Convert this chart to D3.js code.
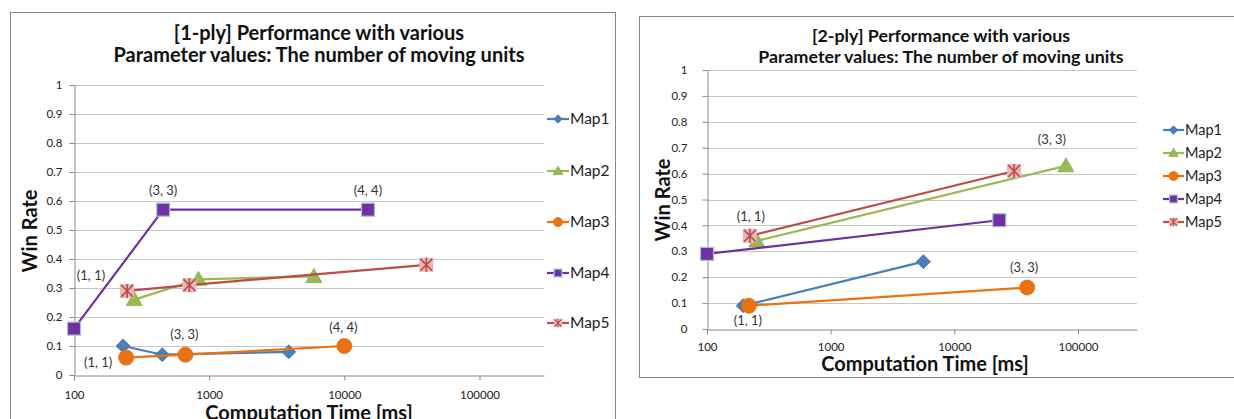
<!DOCTYPE html>
<html>
<head>
<meta charset="utf-8">
<title>Performance with various parameter values</title>
<style>
  body { margin: 0; background: #fff; }
  svg { display: block; font-family: Lato, "Open Sans", sans-serif; }
  .frame { fill: #fff; stroke: #878787; stroke-width: 1; }
  .grid line { stroke: #c6c6c6; stroke-width: 1; }
  .axis path, .axis line { stroke: #8a8a8a; }
  .axis text { fill: #222; }
  .title { font-weight: bold; fill: #111; text-anchor: middle; }
  .axis-title { font-weight: bold; fill: #111; text-anchor: middle; }
  .pt-label { fill: #333; text-anchor: middle; }
  .legend text { fill: #222; }
</style>
</head>
<body>
<div id="chart"></div>
<script src="https://d3js.org/d3.v7.min.js"></script>
<script>
// ---- data ----
var seriesNames = ['Map1', 'Map2', 'Map3', 'Map4', 'Map5'];
var xTickValues = [100, 1000, 10000, 100000];
var yTickValues = [0, 0.1, 0.2, 0.3, 0.4, 0.5, 0.6, 0.7, 0.8, 0.9, 1];
var xDomain = [100, 300000];
var yDomain = [0, 1];
var titleLine2 = 'Parameter values: The number of moving units';

// [1-ply]  [time ms, win rate]
var ply1Map1 = [[231, 0.10], [450, 0.07], [3880, 0.08]];
var ply1Map2 = [[279, 0.26], [833, 0.33], [5950, 0.34]];
var ply1Map3 = [[243, 0.06], [667, 0.07], [10000, 0.10]];
var ply1Map4 = [[100, 0.16], [457, 0.57], [14960, 0.57]];
var ply1Map5 = [[247, 0.29], [714, 0.31], [40400, 0.38]];
// [series, point index, label]
var ply1Labels = [
  ['Map4', 0, '(1, 1)'], ['Map4', 1, '(3, 3)'], ['Map4', 2, '(4, 4)'],
  ['Map3', 0, '(1, 1)'], ['Map3', 1, '(3, 3)'], ['Map3', 2, '(4, 4)']
];

// [2-ply]
var ply2Map1 = [[196, 0.09], [5620, 0.26]];
var ply2Map2 = [[253, 0.34], [79900, 0.63]];
var ply2Map3 = [[218, 0.09], [38800, 0.16]];
var ply2Map4 = [[100, 0.29], [23100, 0.42]];
var ply2Map5 = [[222, 0.36], [30400, 0.61]];
var ply2Labels = [
  ['Map5', 0, '(1, 1)'], ['Map2', 1, '(3, 3)'],
  ['Map3', 0, '(1, 1)'], ['Map3', 1, '(3, 3)']
];

// ---- styles ----
var seriesStyle = {
  Map1: { line: '#4a7ebb', shape: 'diamond' },
  Map2: { line: '#98b954', shape: 'triangle' },
  Map3: { line: '#ea7210', shape: 'circle' },
  Map4: { line: '#7030a0', shape: 'square' },
  Map5: { line: '#be4b48', shape: 'star' }
};

var svg = d3.select('#chart').append('svg')
  .attr('width', 1234)
  .attr('height', 419);

function markerPath(g, shape, k) {
  var h;
  if (shape == 'diamond') {
    h = 7 * k;
    g.append('path')
      .attr('d', 'M0,' + (-h) + 'L' + h + ',0L0,' + h + 'L' + (-h) + ',0Z')
      .attr('fill', '#4a7ebb').attr('stroke', '#3f6fa8').attr('stroke-width', 0.8);
  } else if (shape == 'triangle') {
    h = 8 * k;
    g.append('path')
      .attr('d', 'M0,' + (-h) + 'L' + h + ',' + (h * 0.75) + 'L' + (-h) + ',' + (h * 0.75) + 'Z')
      .attr('fill', '#98b954').attr('stroke', '#8aab48').attr('stroke-width', 0.8);
  } else if (shape == 'circle') {
    g.append('circle').attr('r', 7.5 * k)
      .attr('fill', '#ea7210').attr('stroke', '#e06a08').attr('stroke-width', 0.8);
  } else if (shape == 'square') {
    h = 6.5 * k;
    g.append('rect').attr('x', -h).attr('y', -h).attr('width', 2 * h).attr('height', 2 * h)
      .attr('fill', '#7030a0').attr('stroke', '#a6bfdf').attr('stroke-width', 1.2);
  } else {
    h = 7 * k;
    g.append('rect').attr('x', -h).attr('y', -h).attr('width', 2 * h).attr('height', 2 * h)
      .attr('fill', '#e6b9b8');
    var a = h * 0.85;
    g.append('path')
      .attr('d', 'M' + (-a) + ',' + (-a) + 'L' + a + ',' + a +
                 'M' + a + ',' + (-a) + 'L' + (-a) + ',' + a +
                 'M0,' + (-h) + 'L0,' + h)
      .attr('stroke', '#be4b48').attr('stroke-width', 1.6 * Math.max(k, 0.7)).attr('fill', 'none');
  }
}

function drawPanel(cfg) {
  var p = cfg.plot;
  var g = svg.append('g');

  g.append('rect').attr('class', 'frame')
    .attr('x', cfg.frame[0] + 0.5).attr('y', cfg.frame[1] + 0.5)
    .attr('width', cfg.frame[2]).attr('height', cfg.frame[3]);

  var x = d3.scaleLog().domain(xDomain).range([p.left, p.right]);
  var y = d3.scaleLinear().domain(yDomain).range([p.bottom, p.top]);

  // gridlines
  g.append('g').attr('class', 'grid')
    .selectAll('line')
    .data(yTickValues.filter(function(v) { return v > 0; }))
    .enter().append('line')
    .attr('x1', p.left).attr('x2', p.right)
    .attr('y1', function(d) { return Math.round(y(d)) + 0.5; })
    .attr('y2', function(d) { return Math.round(y(d)) + 0.5; });

  // axes
  var yAxis = d3.axisLeft(y).tickValues(yTickValues)
    .tickFormat(function(d) { return String(d); })
    .tickSize(5).tickSizeOuter(0).tickPadding(cfg.yPad);
  g.append('g').attr('class', 'axis')
    .attr('transform', 'translate(' + (p.left + 0.5) + ',0)')
    .call(yAxis)
    .call(function(s) { s.selectAll('text').style('font-size', cfg.tickFont + 'px').style('font-family', 'Lato'); });

  var xAxis = d3.axisBottom(x).tickValues(xTickValues)
    .tickFormat(function(d) { return String(d); })
    .tickSize(5).tickSizeOuter(0).tickPadding(cfg.xPad);
  g.append('g').attr('class', 'axis')
    .attr('transform', 'translate(0,' + (p.bottom + 0.5) + ')')
    .call(xAxis)
    .call(function(s) { s.selectAll('text').style('font-size', cfg.tickFont + 'px').style('font-family', 'Lato'); });
  g.selectAll('.axis .domain').attr('stroke', '#8a8a8a');

  // titles
  cfg.titles.forEach(function(t, i) {
    g.append('text').attr('class', 'title')
      .attr('x', cfg.titleX).attr('y', cfg.titleY[i])
      .attr('dy', '0.35em')
      .style('font-size', cfg.titleFont + 'px')
      .text(t);
  });
  g.append('text').attr('class', 'axis-title')
    .attr('transform', 'translate(' + cfg.yTitle[0] + ',' + cfg.yTitle[1] + ') rotate(-90)')
    .attr('dy', '0.35em')
    .style('font-size', cfg.axisFont + 'px')
    .text('Win Rate');
  g.append('text').attr('class', 'axis-title')
    .attr('x', cfg.xTitle[0]).attr('y', cfg.xTitle[1])
    .attr('dy', '0.35em')
    .style('font-size', cfg.axisFont + 'px')
    .text('Computation Time [ms]');

  // series
  var line = d3.line()
    .x(function(d) { return x(d[0]); })
    .y(function(d) { return y(d[1]); });

  seriesNames.forEach(function(name, si) {
    var pts = cfg.series[si];
    var st = seriesStyle[name];
    g.append('path')
      .attr('d', line(pts))
      .attr('fill', 'none')
      .attr('stroke', st.line)
      .attr('stroke-width', 2.2)
      .attr('stroke-linejoin', 'round');
    pts.forEach(function(d) {
      var m = g.append('g')
        .attr('transform', 'translate(' + x(d[0]) + ',' + y(d[1]) + ')');
      markerPath(m, st.shape, 1);
    });
  });

  // point labels
  cfg.labels.forEach(function(l, i) {
    var pt = cfg.series[seriesNames.indexOf(l[0])][l[1]];
    var off = cfg.labelOffsets[i];
    g.append('text').attr('class', 'pt-label')
      .attr('x', x(pt[0]) + off[0])
      .attr('y', y(pt[1]) + off[1])
      .attr('dy', '0.35em')
      .style('font-size', cfg.labelFont + 'px')
      .text(l[2]);
  });

  // legend
  var lg = g.append('g').attr('class', 'legend');
  seriesNames.forEach(function(name, i) {
    var ly = cfg.legendY[i];
    var st = seriesStyle[name];
    lg.append('line')
      .attr('x1', cfg.legendX).attr('x2', cfg.legendX + cfg.legendLen)
      .attr('y1', ly).attr('y2', ly)
      .attr('stroke', st.line).attr('stroke-width', 2.2);
    var m = lg.append('g')
      .attr('transform', 'translate(' + (cfg.legendX + cfg.legendLen / 2) + ',' + ly + ')');
    markerPath(m, st.shape, 0.6);
    lg.append('text')
      .attr('x', cfg.legendX + cfg.legendLen + 1)
      .attr('y', ly).attr('dy', '0.35em')
      .style('font-size', cfg.legendFont + 'px')
      .text(name);
  });
}

drawPanel({
  frame: [10, 12, 605, 430],
  plot: { left: 74, right: 544, top: 85, bottom: 375 },
  series: [ply1Map1, ply1Map2, ply1Map3, ply1Map4, ply1Map5],
  labels: ply1Labels,
  labelOffsets: [[17, -53], [0, -19], [0, -19], [-28, 5], [-1, -20], [-1, -19]],
  titles: ['[1-ply] Performance with various', titleLine2],
  titleX: 319, titleY: [33, 55], titleFont: 20,
  yTitle: [30, 231], xTitle: [309, 413], axisFont: 20,
  tickFont: 11.5, yPad: 7, xPad: 10,
  labelFont: 13,
  legendX: 547, legendLen: 22, legendFont: 15.5,
  legendY: [119, 171, 222, 273, 323]
});

drawPanel({
  frame: [639, 16, 600, 361],
  plot: { left: 707, right: 1137, top: 70, bottom: 329 },
  series: [ply2Map1, ply2Map2, ply2Map3, ply2Map4, ply2Map5],
  labels: ply2Labels,
  labelOffsets: [[1, -19], [-14, -26], [-1, 15], [-3, -20]],
  titles: ['[2-ply] Performance with various', titleLine2],
  titleX: 941, titleY: [36, 57], titleFont: 17.8,
  yTitle: [663, 200], xTitle: [925, 364], axisFont: 20,
  tickFont: 11.5, yPad: 15, xPad: 8,
  labelFont: 13,
  legendX: 1163, legendLen: 21, legendFont: 14.5,
  legendY: [130, 153, 176, 199, 222]
});
</script>
</body>
</html>
